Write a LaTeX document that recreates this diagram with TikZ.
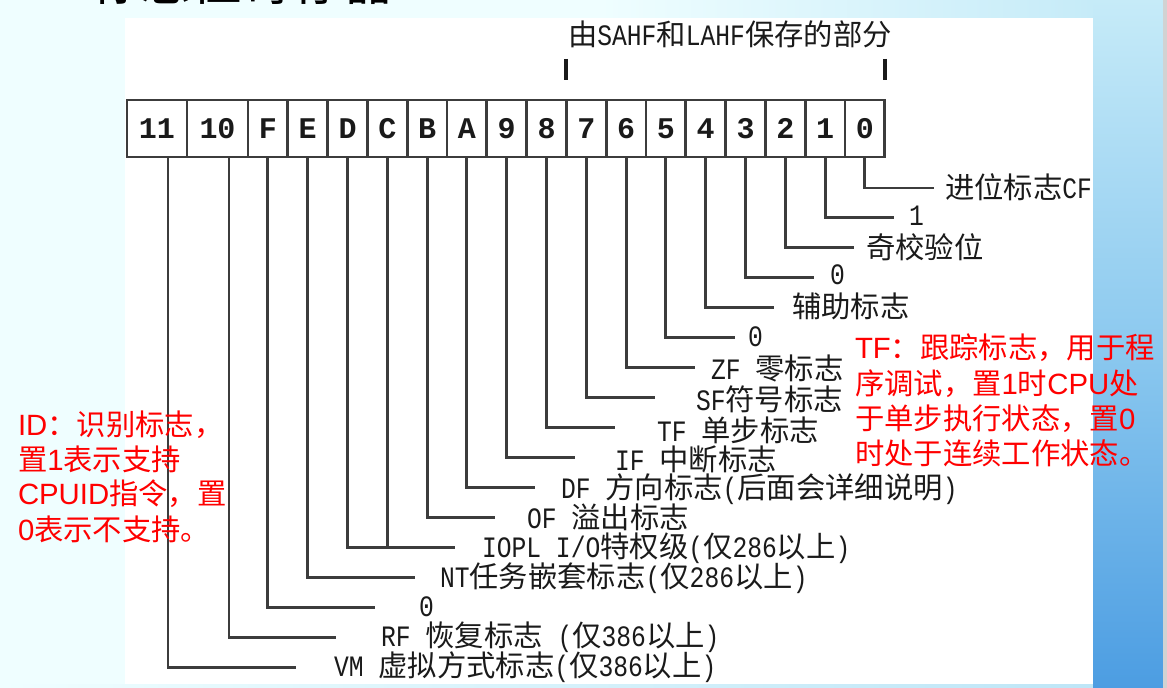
\documentclass[tikz,border=0pt]{standalone}
\usepackage{fontspec}
\newfontfamily\fCJK{Noto Sans CJK SC}
\newfontfamily\fMono[FakeStretch=0.833]{Liberation Mono}
\newfontfamily\fMonoCell{Liberation Mono}
\newfontfamily\fArial{Liberation Sans}
\newcommand\mylat[1]{{\fMono\fontsize{22.2}{24}\selectfont #1}}
\newcommand\myhan[1]{{\fCJK\fontsize{22}{24}\selectfont #1}}
\newcommand\rlat[1]{{\fArial\fontsize{22}{24}\selectfont #1}}
\newcommand\rhan[1]{{\fCJK\fontsize{22}{24}\selectfont #1}}
\definecolor{linegray}{HTML}{3C3C3C}
\definecolor{textblack}{HTML}{1A1A1A}
\definecolor{bgcyan}{HTML}{EFFEFF}
\definecolor{lblueA}{HTML}{C6EBF8}
\definecolor{lblueB}{HTML}{8CC9EF}
\definecolor{lblueC}{HTML}{4C9DE2}
\definecolor{redtext}{HTML}{FF0000}
\tikzset{
  cell/.style={draw=linegray, line width=2.2pt, minimum height=42.75pt,
    inner sep=0pt, outer sep=0pt, text=textblack,
    font=\fMonoCell\bfseries\fontsize{22.5}{24}\selectfont},
  conn/.style={draw=linegray, line width=2.2pt},
  tickmark/.style={draw=textblack, line width=2.6pt},
  lbl/.style={anchor=west, inner sep=0pt, outer sep=0pt, text=textblack},
  redtxt/.style={anchor=west, inner sep=0pt, outer sep=0pt, text=redtext},
}
\begin{document}
\begin{tikzpicture}[x=0.75pt, y=-0.75pt]
\useasboundingbox (0,0) rectangle (1167,688);
% background
\fill[bgcyan] (0,0) rectangle (1167,688);
\shade[left color=bgcyan, right color=lblueA] (600,0) rectangle (1093,18);
\shade[left color=bgcyan, right color=lblueA!80!lblueB] (0,684) rectangle (1163,688);
\shade[top color=lblueA, bottom color=lblueC, middle color=lblueB] (1093,0) rectangle (1163,688);
\fill[gray!35] (1163,0) rectangle (1167,688);
\fill[white] (125,18) rectangle (1093,684);
% clipped slide title
\node[anchor=base west, inner sep=0pt, text=black,
  font=\fCJK\fontsize{38}{40}\selectfont] (title) at (90,1) {标志位寄存器};
% SAHF/LAHF bracket
\node[lbl] (sahf) at (568,34) {\myhan{由}\mylat{SAHF}\myhan{和}\mylat{LAHF}\myhan{保存的部分}};
\coordinate (tkLa) at (566,59); \coordinate (tkLb) at (566,80);
\coordinate (tkRa) at (885,59); \coordinate (tkRb) at (885,80);
\draw[tickmark] (tkLa) -- (tkLb);
\draw[tickmark] (tkRa) -- (tkRb);
% register cells
\node[cell, minimum width=45pt] (c11) at (157,128.5) {11};
\node[cell, minimum width=45.75pt] (c10) at (217.5,128.5) {10};
\foreach \lab [count=\j from 0] in {F,E,D,C,B,A,9,8,7,6,5,4,3,2,1,0}
  \node[cell, minimum width=29.85pt] (c\lab) at ({267.9+39.8*\j},128.5) {\lab};
% connectors
\foreach \b/\k in {0/0,1/1,2/2,3/3,4/4,5/5,6/6,7/7,8/8,9/9,A/10,B/11,C/12,D/12,E/13,F/14} {
  \coordinate (e\k) at ({934-39.9*\k},{188+29.95*\k});
  \draw[conn] (c\b.south) |- (e\k);
}
\coordinate (e15) at ({934-39.9*15},{188+29.95*15});
\coordinate (e16) at ({934-39.9*16},{188+29.95*16});
\draw[conn] ([xshift=8.6pt]c10.south) |- (e15);
\draw[conn] ([xshift=8.25pt]c11.south) |- (e16);
% labels
\node[lbl] (l0) at (945,187) {\myhan{进位标志}\mylat{CF}};
\node[lbl] (l1) at (909,216) {\mylat{1}};
\node[lbl] (l2) at (866,247) {\myhan{奇校验位}};
\node[lbl] (l3) at (830,275) {\mylat{0}};
\node[lbl] (l4) at (792,306) {\myhan{辅助标志}};
\node[lbl] (l5) at (748,337) {\mylat{0}};
\node[lbl] (l6) at (711,368) {\mylat{ZF }\myhan{零标志}};
\node[lbl] (l7) at (696,399) {\mylat{SF}\myhan{符号标志}};
\node[lbl] (l8) at (657,430) {\mylat{TF }\myhan{单步标志}};
\node[lbl] (l9) at (615,459) {\mylat{IF }\myhan{中断标志}};
\node[lbl] (l10) at (561,489) {\mylat{DF }\myhan{方向标志}\mylat{(}\myhan{后面会详细说明}\mylat{)}};
\node[lbl] (l11) at (527,517) {\mylat{OF }\myhan{溢出标志}};
\node[lbl] (l12) at (482,548) {\mylat{IOPL I/O}\myhan{特权级}\mylat{(}\myhan{仅}\mylat{286}\myhan{以上}\mylat{)}};
\node[lbl] (l13) at (440,578) {\mylat{NT}\myhan{任务嵌套标志}\mylat{(}\myhan{仅}\mylat{286}\myhan{以上}\mylat{)}};
\node[lbl] (l14) at (419,607) {\mylat{0}};
\node[lbl] (l15) at (381,637) {\mylat{RF }\myhan{恢复标志}\mylat{ (}\myhan{仅}\mylat{386}\myhan{以上}\mylat{)}};
\node[lbl] (l16) at (334,667) {\mylat{VM }\myhan{虚拟方式标志}\mylat{(}\myhan{仅}\mylat{386}\myhan{以上}\mylat{)}};
% red notes: TF
\node[redtxt] (tf1) at (855,348) {\rlat{TF}\rhan{：跟踪标志，用于程}};
\node[redtxt] (tf2) at (855,384) {\rhan{序调试，置}\rlat{1}\rhan{时}\rlat{CPU}\rhan{处}};
\node[redtxt] (tf3) at (855,419) {\rhan{于单步执行状态，置}\rlat{0}};
\node[redtxt] (tf4) at (855,453) {\rhan{时处于连续工作状态。}};
% red notes: ID
\node[redtxt] (id1) at (18,425) {\rlat{ID}\rhan{：识别标志，}};
\node[redtxt] (id2) at (18,459) {\rhan{置}\rlat{1}\rhan{表示支持}};
\node[redtxt] (id3) at (18,494) {\rlat{CPUID}\rhan{指令，置}};
\node[redtxt] (id4) at (18,529) {\rlat{0}\rhan{表示不支持。}};
\end{tikzpicture}
\end{document}
